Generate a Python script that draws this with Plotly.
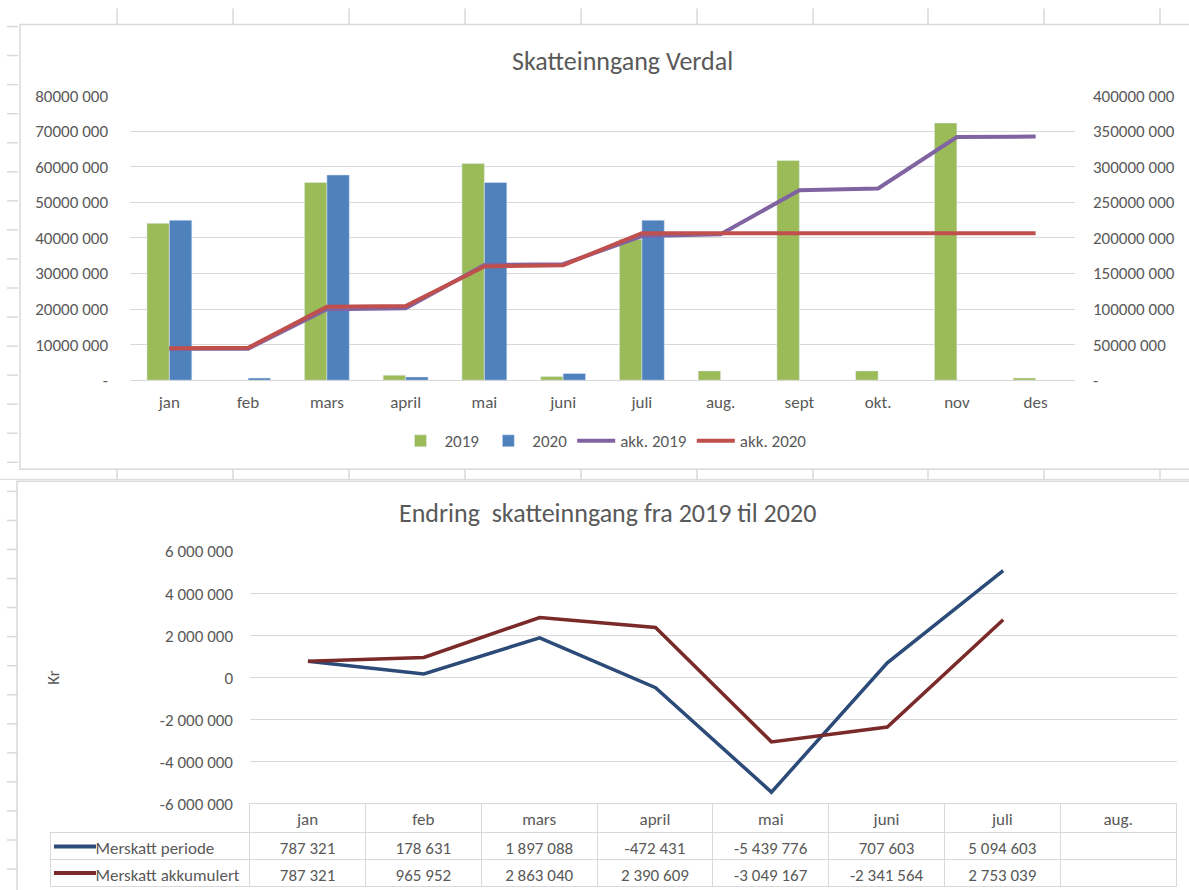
import plotly.graph_objects as go

# figure size (taller than the window to compensate the vertical squeeze seen in the capture)
W, H = 1189, 904
OY, SY = 10.5, 0.975   # empirical mapping: captured_y = OY + SY * layout_y

# ---------------- data ----------------
months = ["jan", "feb", "mars", "april", "mai", "juni", "juli", "aug.", "sept", "okt.", "nov", "des"]
tax_2019 = [44.1e6, 0, 55.6e6, 1.4e6, 60.9e6, 1.0e6, 39.6e6, 2.6e6, 61.8e6, 2.6e6, 72.3e6, 0.6e6]
tax_2020 = [45.0e6, 0.6e6, 57.7e6, 0.9e6, 55.6e6, 1.9e6, 45.0e6, None, None, None, None, None]
akk_2019 = [44.1e6, 44.1e6, 99.7e6, 101.1e6, 162.0e6, 163.0e6, 202.6e6, 205.2e6, 267.0e6, 269.6e6, 341.9e6, 342.5e6]
akk_2020 = [45.0e6, 45.6e6, 103.3e6, 104.2e6, 159.8e6, 161.7e6, 206.7e6, 206.7e6, 206.7e6, 206.7e6, 206.7e6, 206.7e6]

left_ticks = [0, 10e6, 20e6, 30e6, 40e6, 50e6, 60e6, 70e6, 80e6]
left_ticktext = ["-", "10000 000", "20000 000", "30000 000", "40000 000", "50000 000", "60000 000", "70000 000", "80000 000"]
right_ticks = [0, 50e6, 100e6, 150e6, 200e6, 250e6, 300e6, 350e6, 400e6]
right_ticktext = ["-", "50000 000", "100000 000", "150000 000", "200000 000", "250000 000", "300000 000", "350000 000", "400000 000"]

diff_months = ["jan", "feb", "mars", "april", "mai", "juni", "juli", "aug."]
merskatt_periode = [787321, 178631, 1897088, -472431, -5439776, 707603, 5094603, None]
merskatt_akkumulert = [787321, 965952, 2863040, 2390609, -3049167, -2341564, 2753039, None]
row_labels = ["Merskatt periode", "Merskatt akkumulert"]
diff_ticks = [-6e6, -4e6, -2e6, 0, 2e6, 4e6, 6e6]
diff_ticktext = ["-6 000 000", "-4 000 000", "-2 000 000", "0", "2 000 000", "4 000 000", "6 000 000"]

# ---------------- style ----------------
FONT = "Carlito, Calibri, 'Liberation Sans Narrow', 'Open Sans', sans-serif"
TXT = "#595959"
GRID = "#d9d9d9"
C_GREEN, C_BLUE, C_PURPLE, C_RED = "#9bbb59", "#4f81bd", "#8064a2", "#c0504d"
C_DBLUE, C_DRED = "#2c4b78", "#7b2a2a"
FS = 17


def px(x):
    return x / W


def py(y):
    return 1 - ((y - OY) / SY) / H


def fmt(v):
    if v is None:
        return ""
    return f"{v:,}".replace(",", " ")


fig = go.Figure()

# ---- top chart ----
fig.add_trace(go.Bar(x=months, y=tax_2019, name="2019", marker_color=C_GREEN,
                     xaxis="x", yaxis="y"))
fig.add_trace(go.Bar(x=months, y=tax_2020, name="2020", marker_color=C_BLUE,
                     xaxis="x", yaxis="y"))
fig.add_trace(go.Scatter(x=months, y=akk_2019, name="akk. 2019", mode="lines",
                         line=dict(color=C_PURPLE, width=4), xaxis="x", yaxis="y2"))
fig.add_trace(go.Scatter(x=months, y=akk_2020, name="akk. 2020", mode="lines",
                         line=dict(color=C_RED, width=4), xaxis="x", yaxis="y2"))

# ---- bottom chart ----
fig.add_trace(go.Scatter(x=diff_months, y=merskatt_periode, name=row_labels[0], mode="lines",
                         line=dict(color=C_DBLUE, width=3.5), xaxis="x3", yaxis="y3",
                         showlegend=False))
fig.add_trace(go.Scatter(x=diff_months, y=merskatt_akkumulert, name=row_labels[1], mode="lines",
                         line=dict(color=C_DRED, width=3.5), xaxis="x3", yaxis="y3",
                         showlegend=False))

# ---- data table under bottom chart ----
pad = "\u2003\u2003\u2009"
label_col = [pad + lab.replace(" ", "\u00a0") for lab in row_labels]
cols = [label_col] + [[fmt(a), fmt(b)] for a, b in zip(merskatt_periode, merskatt_akkumulert)]
header_line_colors = ["rgba(0,0,0,0)"] + [GRID] * len(diff_months)
cell_fill = ["rgba(0,0,0,0)"] + ["white"] * len(diff_months)
fig.add_trace(go.Table(
    domain=dict(x=[px(50), px(1177)], y=[max(0, py(889)), py(803)]),
    columnwidth=[200] + [116] * len(diff_months),
    header=dict(values=[""] + diff_months, height=29, align="center",
                fill_color="rgba(0,0,0,0)", line=dict(color=header_line_colors, width=1),
                font=dict(family=FONT, size=FS, color=TXT)),
    cells=dict(values=cols, height=27, align=["left"] + ["center"] * len(diff_months),
               fill_color=cell_fill, line=dict(color=GRID, width=1),
               font=dict(family=FONT, size=FS, color=TXT)),
))

# ---------------- decoration: spreadsheet grid + chart boxes + table keys ----------------
shapes = []
col_x = [117, 233, 349, 465, 581, 697, 813, 928, 1044, 1160]
for cx in col_x:
    shapes.append(dict(type="line", xref="paper", yref="paper", x0=px(cx), x1=px(cx),
                       y0=py(9), y1=py(25), line=dict(color=GRID, width=1.5)))
    shapes.append(dict(type="line", xref="paper", yref="paper", x0=px(cx), x1=px(cx),
                       y0=py(469), y1=py(480), line=dict(color=GRID, width=1.5)))
shapes.append(dict(type="line", xref="paper", yref="paper", x0=0, x1=1,
                   y0=py(479), y1=py(479), line=dict(color=GRID, width=1)))
ry = 27
while ry < 890:
    shapes.append(dict(type="line", xref="paper", yref="paper", x0=px(7), x1=px(18),
                       y0=py(ry), y1=py(ry), line=dict(color=GRID, width=1.5)))
    ry += 29
shapes.append(dict(type="rect", xref="paper", yref="paper", x0=px(20), x1=px(1195),
                   y0=py(469), y1=py(25), line=dict(color=GRID, width=1.5), fillcolor="rgba(0,0,0,0)"))
shapes.append(dict(type="rect", xref="paper", yref="paper", x0=px(17), x1=px(1195),
                   y0=py(910), y1=py(481), line=dict(color=GRID, width=1.5), fillcolor="rgba(0,0,0,0)"))
# legend keys inside the data table
for key_y, key_c in ((845.5, C_DBLUE), (872, C_DRED)):
    shapes.append(dict(type="line", xref="paper", yref="paper", x0=px(54), x1=px(96),
                       y0=py(key_y), y1=py(key_y), layer="above",
                       line=dict(color=key_c, width=4)))

axis_font = dict(family=FONT, size=FS, color=TXT)

fig.update_layout(
    width=W, height=H,
    margin=dict(l=0, r=0, t=0, b=0),
    paper_bgcolor="white", plot_bgcolor="white",
    font=dict(family=FONT, size=FS, color=TXT),
    barmode="group", bargap=0.43, bargroupgap=0,
    showlegend=True,
    legend=dict(orientation="h", x=px(604), y=py(441), xanchor="center", yanchor="middle",
                font=dict(family=FONT, size=FS, color=TXT), itemwidth=38,
                bgcolor="rgba(0,0,0,0)", traceorder="normal"),
    xaxis=dict(domain=[px(130), px(1075)], anchor="y", type="category",
               categoryorder="array", categoryarray=months, range=[-0.5, 11.5],
               showgrid=False, showline=False, ticks="", tickfont=axis_font,
               ticklabelstandoff=10, fixedrange=True),
    yaxis=dict(domain=[py(380), py(96)], anchor="x", range=[0, 80e6],
               tickvals=left_ticks, ticktext=left_ticktext, tickfont=axis_font,
               showgrid=True, gridcolor=GRID, gridwidth=1, zeroline=True, zerolinecolor=GRID,
               zerolinewidth=1, showline=False, ticks="", ticklabelstandoff=21),
    yaxis2=dict(overlaying="y", side="right", anchor="x", range=[0, 400e6],
                tickvals=right_ticks, ticktext=right_ticktext, tickfont=axis_font,
                showgrid=False, zeroline=False, showline=False, ticks="", ticklabelstandoff=17),
    xaxis3=dict(domain=[px(250), px(1177)], anchor="y3", type="category",
                categoryorder="array", categoryarray=diff_months, range=[-0.5, 7.5],
                showgrid=False, showline=False, showticklabels=False, ticks=""),
    yaxis3=dict(domain=[py(803), py(551)], anchor="x3", range=[-6e6, 6e6],
                tickvals=diff_ticks, ticktext=diff_ticktext, tickfont=axis_font,
                showgrid=True, gridcolor=GRID, gridwidth=1, zeroline=True, zerolinecolor=GRID,
                zerolinewidth=1, showline=False, ticks="", ticklabelstandoff=16),
    shapes=shapes,
    annotations=[
        dict(text="Skatteinngang Verdal", xref="paper", yref="paper", x=px(622), y=py(61),
             xanchor="center", yanchor="middle", showarrow=False,
             font=dict(family=FONT, size=26, color=TXT)),
        dict(text="Endring&nbsp; skatteinngang fra 2019 til 2020", xref="paper", yref="paper",
             x=px(607), y=py(513), xanchor="center", yanchor="middle", showarrow=False,
             font=dict(family=FONT, size=26, color=TXT)),
        dict(text="Kr", xref="paper", yref="paper", x=px(54), y=py(677), textangle=-90,
             xanchor="center", yanchor="middle", showarrow=False,
             font=dict(family=FONT, size=FS, color=TXT)),
    ],
)

fig.write_html(
    "out.html",
    config={"displayModeBar": False},
    post_script=(
        "var d=document.getElementById('{plot_id}');"
        "d.style.position='fixed';d.style.top='0px';d.style.left='0px';"
        "document.body.style.margin='0px';document.body.style.overflow='hidden';"
    ),
)
